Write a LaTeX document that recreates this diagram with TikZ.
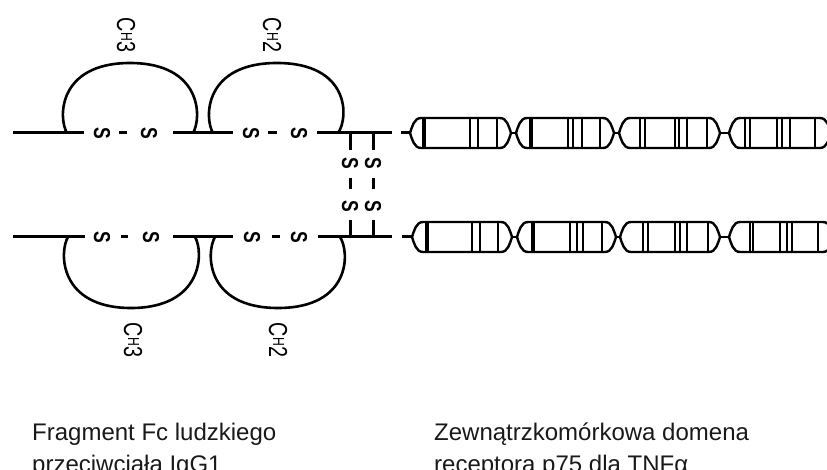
\documentclass[tikz,border=0pt]{standalone}
\usepackage{fontspec}
\setmainfont{Liberation Sans}
\usepackage{graphicx}
% condensed lettering for the rotated chain labels
\newcommand\condtxt[1]{\scalebox{0.76}[1]{#1}}
% one receptor domain: #1 left tip x, #2 right tip x, #3 axis y, #4 bar positions
\newcommand\tnfdomain[4]{%
  \draw[dom] (#1,#3) .. controls (#1+2,#3-6) and (#1+4,#3-15) .. (#1+11,#3-15)
    -- (#2-11,#3-15) .. controls (#2-4,#3-15) and (#2-2,#3-6) .. (#2,#3)
    .. controls (#2-2,#3+6) and (#2-4,#3+15) .. (#2-11,#3+15)
    -- (#1+11,#3+15) .. controls (#1+4,#3+15) and (#1+2,#3+6) .. cycle;
  \foreach \bx in {#4} \draw[bar] (\bx,#3-15) -- (\bx,#3+15);}
\begin{document}
\begin{tikzpicture}[x=1pt,y=-1pt,
  chain/.style={line width=3pt},
  loopline/.style={line width=2.6pt},
  dom/.style={line width=2.4pt, line join=round},
  bar/.style={line width=2.2pt},
  thickbar/.style={line width=3.4pt},
  sulf/.style={font=\bfseries\fontsize{23}{23}\selectfont, rotate=-90, inner sep=0pt},
  dlabel/.style={font=\fontsize{26}{26}\selectfont, rotate=-90, inner sep=0pt},
  caption/.style={font=\fontsize{24}{28}\selectfont, inner sep=0pt, anchor=base west, text=black!90}]
\useasboundingbox (0,0) rectangle (827,470);
\clip (0,0) rectangle (827,470);

% ---------- upper heavy chain (y = 133) ----------
\draw[chain] (13,133) -- (84,133);
\draw[loopline] (67,133) .. controls (58,118) and (58,63) .. (130,63)
  .. controls (202,63) and (202,118) .. (193,133);
\draw[chain] (173,133) -- (233,133);
\draw[loopline] (213,133) .. controls (204,118) and (204,63) .. (277,63)
  .. controls (350,63) and (349,118) .. (338,133);
\draw[chain] (317,133) -- (392,133);
\node[sulf] (su1) at (102,133) {\condtxt{S}};
\node[sulf] (su2) at (149,133) {\condtxt{S}};
\node[sulf] (su3) at (251,133) {\condtxt{S}};
\node[sulf] (su4) at (299,133) {\condtxt{S}};
\draw[chain] (119,133) -- (127,133);
\draw[chain] (268,133) -- (277,133);
\node[dlabel] (ch3u) at (126,35) {\condtxt{C\raisebox{4pt}{\fontsize{16}{16}\selectfont H}3}};
\node[dlabel] (ch2u) at (272,35) {\condtxt{C\raisebox{4pt}{\fontsize{16}{16}\selectfont H}2}};

% ---------- lower heavy chain (y = 237) ----------
\draw[chain] (13,237) -- (85,237);
\draw[loopline] (68,237) .. controls (59,252) and (59,308) .. (131,308)
  .. controls (203,308) and (204,252) .. (195,237);
\draw[chain] (173,237) -- (233,237);
\draw[loopline] (215,237) .. controls (206,252) and (205,308) .. (278,308)
  .. controls (351,308) and (350,252) .. (340,237);
\draw[chain] (318,237) -- (392,237);
\node[sulf] (sl1) at (102,237) {\condtxt{S}};
\node[sulf] (sl2) at (151,237) {\condtxt{S}};
\node[sulf] (sl3) at (252,237) {\condtxt{S}};
\node[sulf] (sl4) at (299,237) {\condtxt{S}};
\draw[chain] (121,237) -- (128,237);
\draw[chain] (272,237) -- (280,237);
\node[dlabel] (ch3l) at (133,340) {\condtxt{C\raisebox{4pt}{\fontsize{16}{16}\selectfont H}3}};
\node[dlabel] (ch2l) at (278,340) {\condtxt{C\raisebox{4pt}{\fontsize{16}{16}\selectfont H}2}};

% ---------- hinge disulfide bridges ----------
\foreach \hx/\nm in {350/a, 373/b} {
  \draw[chain] (\hx,133) -- (\hx,150);
  \node[sulf] (hu\nm) at (\hx,163) {\condtxt{S}};
  \draw[chain] (\hx,178) -- (\hx,189);
  \node[sulf] (hl\nm) at (\hx,206) {\condtxt{S}};
  \draw[chain] (\hx,220) -- (\hx,237);
}

% ---------- links to the receptor domains ----------
\draw[chain] (401,133) -- (410,133);
\draw[chain] (402,237) -- (412,237);

% ---------- upper receptor chain ----------
\tnfdomain{410}{511}{133}{470,478,497}
\draw[thickbar] (424,118) -- (424,148);
\draw[dom] (511,133) -- (516,133);
\tnfdomain{516}{614}{133}{568,573,582,600}
\draw[thickbar] (531,118) -- (531,148);
\draw[dom] (614,133) -- (619,133);
\tnfdomain{619}{720}{133}{640,645,675,679,687,707}
\draw[dom] (720,133) -- (729,133);
\tnfdomain{729}{831}{133}{745,750,777,782,790,815}

% ---------- lower receptor chain ----------
\tnfdomain{412}{512}{237}{472,480,498}
\draw[thickbar] (427,222) -- (427,252);
\draw[dom] (512,237) -- (517,237);
\tnfdomain{517}{616}{237}{570,577,583,602}
\draw[thickbar] (533,222) -- (533,252);
\draw[dom] (616,237) -- (620,237);
\tnfdomain{620}{720}{237}{643,648,675,680,687,708}
\draw[dom] (720,237) -- (729,237);
\tnfdomain{729}{834}{237}{750,753,780,787,792,818}

% ---------- captions ----------
\node[caption] (fc1) at (32,440) {Fragment Fc ludzkiego};
\node[caption] (fc2) at (32,472) {przeciwciała IgG1};
\node[caption] (ex1) at (434,440) {Zewnątrzkomórkowa domena};
\node[caption] (ex2) at (434,472) {receptora p75 dla TNFα};
\end{tikzpicture}
\end{document}
